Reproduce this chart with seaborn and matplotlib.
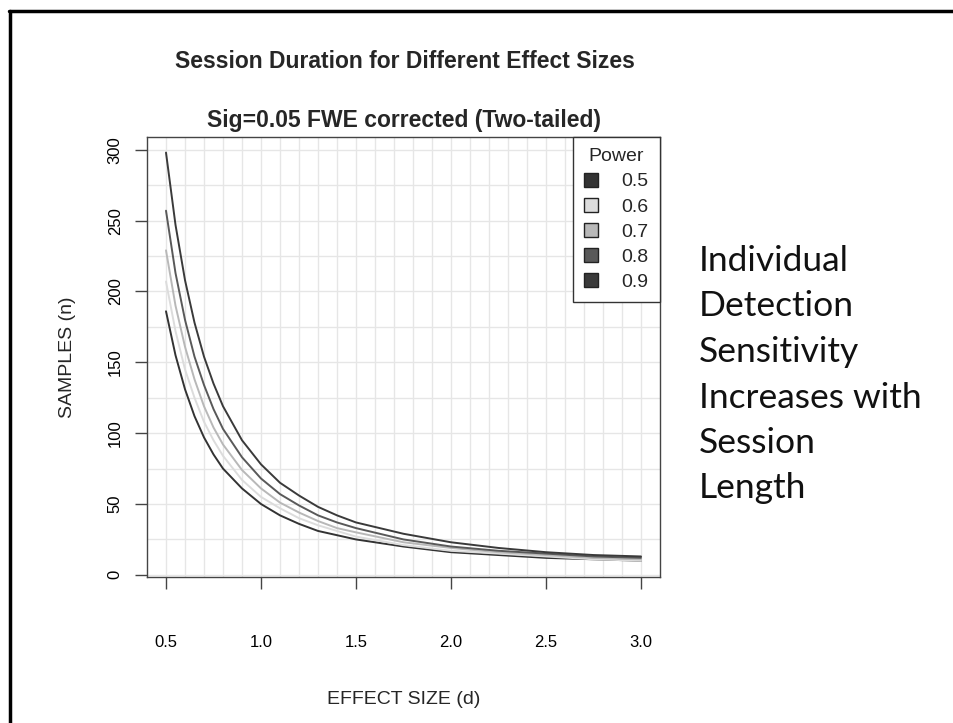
import numpy as np
import pandas as pd
import matplotlib
matplotlib.use("Agg")
import matplotlib.pyplot as plt
from matplotlib.lines import Line2D
from matplotlib.patches import Patch
import seaborn as sns

# Values (samples n per effect size d)
effect_size = [0.5, 0.55, 0.6, 0.65, 0.7, 0.75, 0.8, 0.9, 1.0, 1.1, 1.2, 1.3,
               1.4, 1.5, 1.75, 2.0, 2.25, 2.5, 2.75, 3.0]
power_levels = ["0.5", "0.6", "0.7", "0.8", "0.9"]
n_p05 = [186, 155, 131, 112, 97, 85, 75, 61, 50, 42, 36, 31, 28, 25, 20, 16, 14, 12, 11, 10]
n_p06 = [207, 172, 145, 125, 108, 95, 84, 67, 55, 47, 40, 35, 31, 27, 21, 17, 15, 13, 11, 10]
n_p07 = [229, 190, 161, 138, 119, 104, 92, 74, 61, 51, 44, 38, 33, 30, 23, 19, 16, 14, 12, 11]
n_p08 = [257, 213, 180, 154, 134, 117, 103, 83, 68, 57, 49, 42, 37, 33, 25, 20, 17, 15, 13, 12]
n_p09 = [298, 247, 208, 178, 154, 135, 119, 95, 78, 65, 56, 48, 42, 37, 29, 23, 19, 16, 14, 13]
line_colors = ["#333333", "#dcdcdc", "#b8b8b8", "#595959", "#3a3a3a"]

series = [n_p05, n_p06, n_p07, n_p08, n_p09]
df = pd.concat([pd.DataFrame({"d": effect_size, "n": vals, "power": p})
                for p, vals in zip(power_levels, series)], ignore_index=True)

sns.set_style("white")
plt.rcParams["font.family"] = ["Liberation Sans", "DejaVu Sans"]

fig = plt.figure(figsize=(9.54, 7.23), dpi=100)
ax = fig.add_axes([147 / 954, 1 - 577 / 723, 513 / 954, 440 / 723])

sns.lineplot(data=df, x="d", y="n", hue="power", palette=dict(zip(power_levels, line_colors)),
             hue_order=power_levels, linewidth=1.4, legend=False, ax=ax, zorder=3)

ax.set_xlim(0.4, 3.1)
ax.set_ylim(-1.5, 309)
ax.set_xticks(np.arange(0.5, 3.01, 0.5))
ax.set_xticks(np.arange(0.5, 3.01, 0.1), minor=True)
ax.set_yticks(np.arange(0, 301, 50))
ax.set_yticks(np.arange(0, 301, 25), minor=True)
ax.grid(True, which="both", color="#e6e6e6", linewidth=1, zorder=0)
ax.set_axisbelow(True)
ax.tick_params(which="major", direction="out", length=8.5, width=1, color="#444444",
               labelsize=12, labelcolor="black", left=True, bottom=True)
ax.tick_params(axis="y", which="major", pad=9)
ax.tick_params(axis="x", which="major", pad=33)
ax.tick_params(which="minor", length=0)
for lab in ax.get_yticklabels():
    lab.set_rotation(90)
    lab.set_va("center")
for sp in ax.spines.values():
    sp.set_color("#444444")
    sp.set_linewidth(1)

ax.set_xlabel("EFFECT SIZE (d)", fontsize=14, labelpad=30)
ax.set_ylabel("SAMPLES (n)", fontsize=14, labelpad=23)

# legend
handles = [Patch(facecolor=c, edgecolor="#222222", linewidth=1) for c in line_colors]
leg = ax.legend(handles, power_levels, title="Power", loc="upper right",
                bbox_to_anchor=(1.0, 1.0), borderaxespad=0, fancybox=False,
                fontsize=14, title_fontsize=14, handlelength=0.72, handleheight=0.72,
                handletextpad=1.2, labelspacing=0.38, borderpad=0.58, framealpha=1)
leg.get_frame().set_edgecolor("#333333")
leg.get_frame().set_linewidth(1)
leg._legend_box.align = "center"

# titles
fig.text(405 / 954, 1 - 62 / 723, "Session Duration for Different Effect Sizes",
         ha="center", va="center", fontsize=16.5, fontweight="bold")
fig.text(404 / 954, 1 - 121 / 723, "Sig=0.05 FWE corrected (Two-tailed)",
         ha="center", va="center", fontsize=16.5, fontweight="bold")

# side text
side_lines = ["Individual", "Detection", "Sensitivity", "Increases with", "Session", "Length"]
for i, line in enumerate(side_lines):
    fig.text(699 / 954, 1 - (271 + i * 45.5) / 723, line, ha="left", va="baseline",
             fontsize=25.5, family=["Lato", "DejaVu Sans"], color="#111111")

# outer frame (top and left edges only)
fig.add_artist(Line2D([9.5 / 954, 1], [1 - 10.5 / 723] * 2, transform=fig.transFigure,
                      color="black", linewidth=2.5))
fig.add_artist(Line2D([10.5 / 954] * 2, [0, 1 - 10.5 / 723], transform=fig.transFigure,
                      color="black", linewidth=2.5))

fig.savefig("out.png", dpi=100, facecolor="white")
